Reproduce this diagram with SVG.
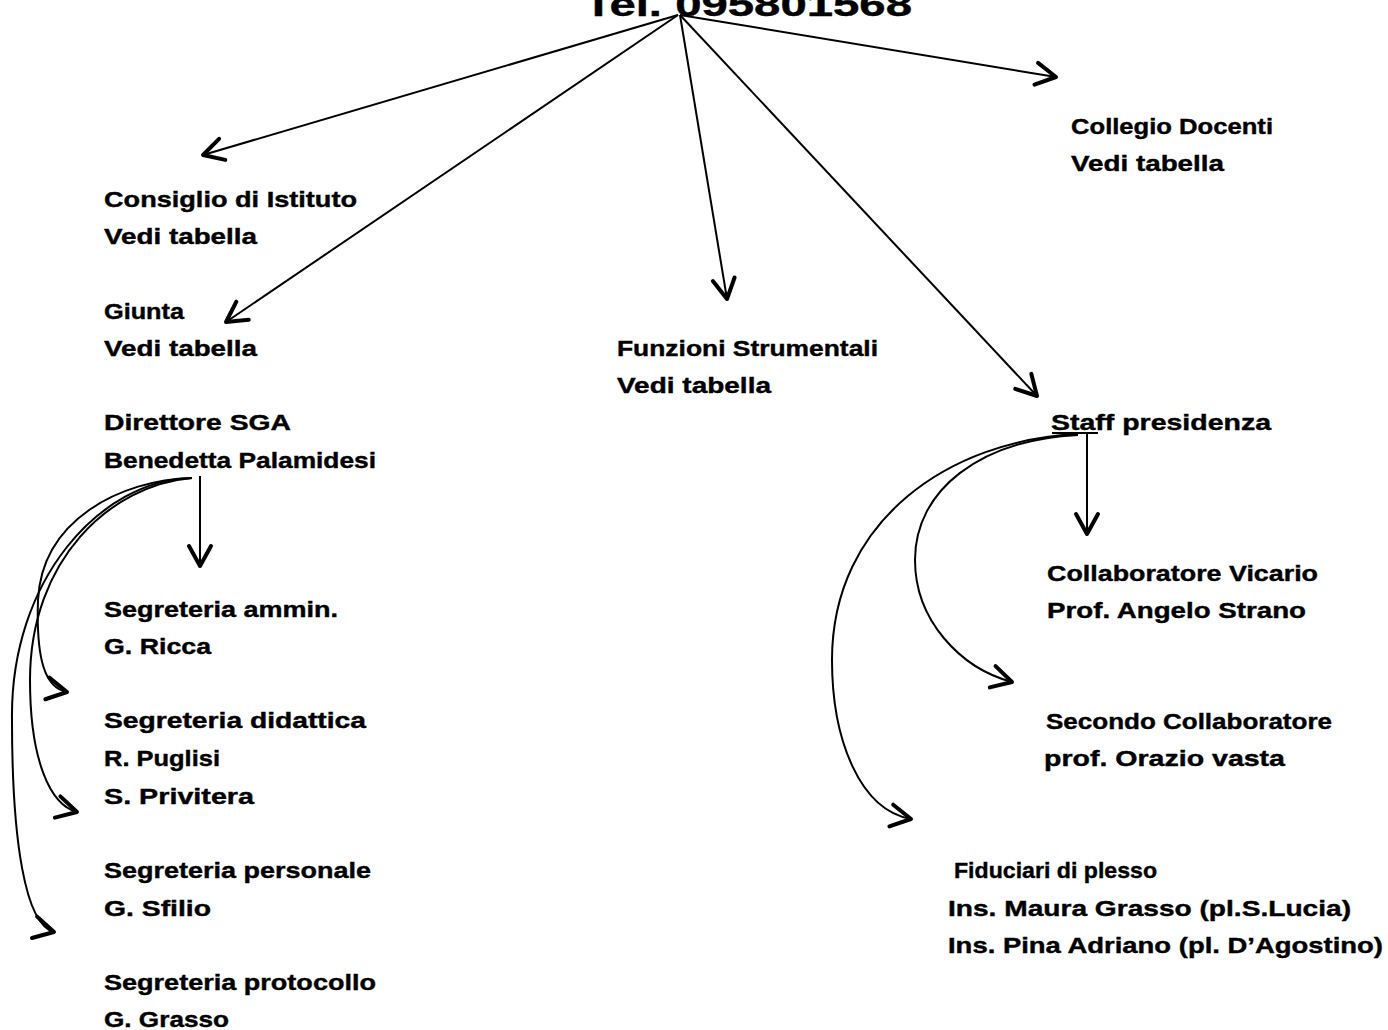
<svg xmlns="http://www.w3.org/2000/svg" width="1388" height="1030" viewBox="0 0 1388 1030">
<style>
text{font-family:"Liberation Sans",Arial,sans-serif;font-weight:bold;font-size:22px;fill:#000;stroke:#000;stroke-width:0.4}
.title{font-size:33px}
.c{fill:none;stroke:#000;stroke-width:2}
</style>
<defs>
<marker id="ah" markerUnits="userSpaceOnUse" markerWidth="30" markerHeight="30" viewBox="-24 -15 28 30" refX="0" refY="0" orient="auto">
<path d="M-20,-11 L0,0 L-20,11" fill="none" stroke="#000" stroke-width="4" stroke-linecap="round" stroke-linejoin="round"/>
</marker>
</defs>
<rect width="1388" height="1030" fill="#fff"/>
<g id="title"><text class="title" x="584" y="16" textLength="328" lengthAdjust="spacingAndGlyphs">Tel. 095801568</text></g>
<g id="consiglio"><text x="104" y="207" textLength="253" lengthAdjust="spacingAndGlyphs">Consiglio di Istituto</text><text x="104" y="244" textLength="153" lengthAdjust="spacingAndGlyphs">Vedi tabella</text></g>
<g id="giunta"><text x="104" y="319" textLength="80" lengthAdjust="spacingAndGlyphs">Giunta</text><text x="104" y="356" textLength="153" lengthAdjust="spacingAndGlyphs">Vedi tabella</text></g>
<g id="direttore"><text x="104" y="430" textLength="187" lengthAdjust="spacingAndGlyphs">Direttore SGA</text><text x="104" y="468" textLength="272" lengthAdjust="spacingAndGlyphs">Benedetta Palamidesi</text></g>
<g id="amministrativa"><text x="104" y="617" textLength="234" lengthAdjust="spacingAndGlyphs">Segreteria ammin.</text><text x="104" y="654" textLength="107" lengthAdjust="spacingAndGlyphs">G. Ricca</text></g>
<g id="didattica"><text x="104" y="728" textLength="262" lengthAdjust="spacingAndGlyphs">Segreteria didattica</text><text x="104" y="766" textLength="116" lengthAdjust="spacingAndGlyphs">R. Puglisi</text><text x="104" y="804" textLength="150" lengthAdjust="spacingAndGlyphs">S. Privitera</text></g>
<g id="personale"><text x="104" y="878" textLength="267" lengthAdjust="spacingAndGlyphs">Segreteria personale</text><text x="104" y="916" textLength="107" lengthAdjust="spacingAndGlyphs">G. Sfilio</text></g>
<g id="protocollo"><text x="104" y="990" textLength="272" lengthAdjust="spacingAndGlyphs">Segreteria protocollo</text><text x="104" y="1027" textLength="125" lengthAdjust="spacingAndGlyphs">G. Grasso</text></g>
<g id="funzioni"><text x="617" y="356" textLength="261" lengthAdjust="spacingAndGlyphs">Funzioni Strumentali</text><text x="617" y="393" textLength="154" lengthAdjust="spacingAndGlyphs">Vedi tabella</text></g>
<g id="collegio"><text x="1071" y="134" textLength="202" lengthAdjust="spacingAndGlyphs">Collegio Docenti</text><text x="1071" y="171" textLength="153" lengthAdjust="spacingAndGlyphs">Vedi tabella</text></g>
<g id="staff"><text x="1051" y="430" textLength="220" lengthAdjust="spacingAndGlyphs">Staff presidenza</text></g>
<g id="vicario"><text x="1047" y="581" textLength="271" lengthAdjust="spacingAndGlyphs">Collaboratore Vicario</text><text x="1047" y="618" textLength="259" lengthAdjust="spacingAndGlyphs">Prof. Angelo Strano</text></g>
<g id="secondo"><text x="1046" y="729" textLength="286" lengthAdjust="spacingAndGlyphs">Secondo Collaboratore</text><text x="1044" y="766" textLength="241" lengthAdjust="spacingAndGlyphs">prof. Orazio vasta</text></g>
<g id="fiduciari"><text x="954" y="878" textLength="203" lengthAdjust="spacingAndGlyphs">Fiduciari di plesso</text><text x="948" y="916" textLength="403" lengthAdjust="spacingAndGlyphs">Ins. Maura Grasso (pl.S.Lucia)</text><text x="948" y="953" textLength="435" lengthAdjust="spacingAndGlyphs">Ins. Pina Adriano (pl. D’Agostino)</text></g>
<g id="connectors">
<line class="c" x1="678" y1="15" x2="203" y2="155" marker-end="url(#ah)"/>
<line class="c" x1="678" y1="15" x2="226" y2="322" marker-end="url(#ah)"/>
<line class="c" x1="680" y1="15" x2="727" y2="299" marker-end="url(#ah)"/>
<line class="c" x1="680" y1="15" x2="1037" y2="396" marker-end="url(#ah)"/>
<line class="c" x1="680" y1="15" x2="1056" y2="77" marker-end="url(#ah)"/>
<line class="c" x1="1052" y1="433" x2="1098" y2="433"/>
<line class="c" x1="1087" y1="433" x2="1087" y2="534" marker-end="url(#ah)"/>
<path class="c" d="M1078,435 C980,440 915,490 915,560 C915,620 960,668 1012,682" marker-end="url(#ah)"/>
<path class="c" d="M1078,434 C950,440 832,520 832,660 C832,740 860,810 911,819" marker-end="url(#ah)"/>
<line class="c" x1="200" y1="476" x2="200" y2="566" marker-end="url(#ah)"/>
<path class="c" d="M192,478 C120,480 42,520 38,600 C36,660 45,688 67,692" marker-end="url(#ah)"/>
<path class="c" d="M192,478 C110,485 30,560 30,680 C30,760 50,805 77,812" marker-end="url(#ah)"/>
<path class="c" d="M192,478 C100,480 10,580 12,720 C12,840 25,925 54,932" marker-end="url(#ah)"/>
</g>
</svg>
